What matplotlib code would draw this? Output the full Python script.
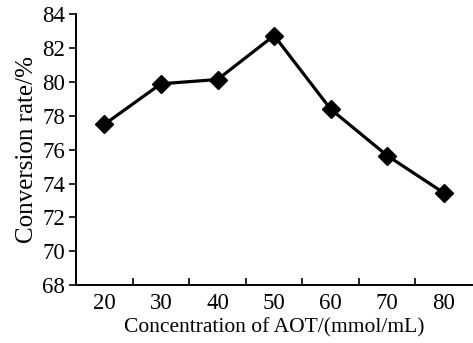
import numpy as np
import matplotlib
matplotlib.use('Agg')
import matplotlib.pyplot as plt

# data
concentration = ["20", "30", "40", "50", "60", "70", "80"]
conversion = [77.5, 79.9, 80.15, 82.75, 78.4, 75.65, 73.45]
y_ticks = [68, 70, 72, 74, 76, 78, 80, 82, 84]

plt.rcParams['font.family'] = ['Liberation Serif', 'DejaVu Serif']
plt.rcParams['font.size'] = 15.5

fig = plt.figure(figsize=(4.73, 3.43), dpi=100)
ax = fig.add_axes([0.161, 0.169, 0.837, 0.789])

x = np.arange(len(concentration))
ax.plot(x, conversion, color='black', lw=2.3, marker='D', ms=9,
        markerfacecolor='black', markeredgecolor='black')

ax.set_xlim(-0.5, len(concentration) - 0.5)
ax.set_ylim(y_ticks[0], y_ticks[-1])
ax.set_yticks(y_ticks)
ax.set_xticks(x)
ax.set_xticklabels(concentration)
ax.set_xticks(x[:-1] + 0.5, minor=True)

ax.tick_params(axis='x', which='major', length=0, pad=6, labelsize=16.5)
ax.tick_params(axis='x', which='minor', direction='in', length=5, width=1.2)
ax.tick_params(axis='y', which='major', direction='out', length=5, width=1.2,
               pad=3, labelsize=16.5)

for s in ['top', 'right']:
    ax.spines[s].set_visible(False)
for s in ['left', 'bottom']:
    ax.spines[s].set_linewidth(1.4)

ax.set_xlabel("Concentration of AOT/(mmol/mL)", labelpad=3)
ax.set_ylabel("Conversion rate/%", fontsize=18, labelpad=3)

fig.savefig("out.png", dpi=100)
